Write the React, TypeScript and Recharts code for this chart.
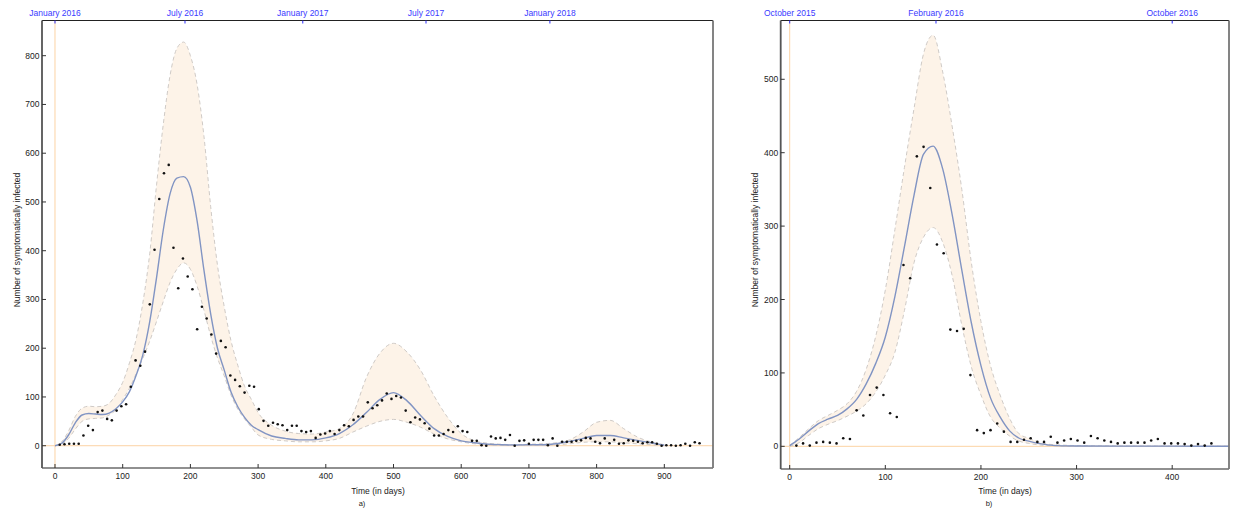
import React from 'react';
import { ComposedChart, XAxis, YAxis, Area, Line, Scatter, ReferenceLine } from 'recharts';

// ---------- Panel a) ----------
const aModelDays = [0,10,20,30,40,50,60,70,80,90,100,110,120,130,140,150,160,170,180,190,200,210,220,230,240,250,260,270,280,290,300,320,340,360,380,400,420,440,460,480,500,520,540,560,580,600,620,640,660,680,700,720,740,760,780,800,820,840,860,880,900];
const aMedian = [0,5,22,47,63,66,65,64,67,76,90,111,145,188,255,345,443,517,549,552,530,460,360,270,200,155,110,80,58,42,33,20,15,12,12,16,25,43,68,95,109,92,62,35,19,10,6,3,2,1.5,2,2,4,9,15,21,21,16,11,6,1];
const aLower = [0,3,15,34,50,55,56,57,63,74,95,118,148,180,215,255,296,335,362,375,362,327,278,225,180,143,104,75,55,38,22,13,10,8,8,10,15,28,40,50,54,48,38,24,14,8,4,2,1,1,1,1,2,4,7,8,8,6,4,2,0];
const aUpper = [0,8,30,60,77,81,80,81,87,105,130,170,220,295,395,535,660,760,815,828,800,740,635,490,370,285,215,165,122,95,68,42,30,25,24,28,35,65,140,190,210,192,155,102,58,25,10,5,3,2,3,4,6,12,28,48,52,35,18,8,2];
const aCases = [2,3,4,4,4,21,41,32,69,72,55,52,72,81,85,121,175,164,193,290,402,506,559,576,406,323,384,347,321,239,285,261,228,189,215,202,144,135,122,109,123,121,75,51,41,47,44,42,32,41,41,30,28,30,16,23,25,30,24,32,42,40,53,60,60,89,77,83,93,107,96,102,99,72,48,58,54,46,35,21,21,24,32,28,40,30,28,10,10,1,0,19,15,16,12,22,0,10,11,4,12,12,12,1,15,0,8,8,8,10,11,16,15,8,5,15,5,12,4,5,11,10,8,5,7,7,4,0,1,1,0,1,4,0,7,5];
const aXTicks = [0,100,200,300,400,500,600,700,800,900];
const aYTicks = [0,100,200,300,400,500,600,700,800];
const aTopTickDays = [0,192,366,548,731];
const aTopTickLabels = ['January 2016','July 2016','January 2017','July 2017','January 2018'];

// ---------- Panel b) ----------
const bModelDays = [0,10,20,30,40,50,60,70,80,90,100,110,120,130,140,150,160,170,180,190,200,210,220,230,240,250,260,270,280,300,350,400,460];
const bMedian = [1,10,21,31,37,42,51,64,85,113,149,204,272,342,398,409,378,315,240,168,110,66,40,21,11,7,4,2,1,0.5,0.3,0.2,0.1];
const bLower = [0,5,15,24,30,35,41,48,58,74,97,128,185,250,285,298,278,232,165,108,70,40,25,14,7,4,2,1,0.5,0.2,0.1,0.1,0];
const bUpper = [1,12,24,35,42,49,58,75,105,150,213,295,380,460,535,560,510,435,350,250,170,110,70,38,17,11,6,3,2,1,0.5,0.3,0.2];
const bCases = [1,4,1,5,6,5,4,11,10,49,42,70,80,70,45,40,247,229,395,408,352,275,263,159,157,160,97,22,18,22,31,20,6,6,9,11,6,6,13,5,8,10,8,5,14,11,8,6,4,5,5,5,5,8,10,4,4,4,3,1,3,1,4];
const bXTicks = [0,100,200,300,400];
const bYTicks = [0,100,200,300,400,500];
const bTopTickDays = [0,153,400];
const bTopTickLabels = ['October 2015','February 2016','October 2016'];

const FONT = '"Liberation Sans", Arial, sans-serif';
const FS = 8.5;

const buildModel = (days: number[], lo: number[], mid: number[], hi: number[]) =>
  days.map((d, i) => ({ d, range: [lo[i], hi[i]], lo: lo[i], mid: mid[i], hi: hi[i] }));
const buildObs = (cases: number[]) => cases.map((v, i) => ({ d: 7 * (i + 1), v }));

const BottomTick = (props: any) => {
  const { x, y, payload } = props;
  return (
    <g>
      <line x1={x} x2={x} y1={y} y2={y - 4} stroke="#333" strokeWidth={1} />
      <text x={x} y={y + 11} textAnchor="middle" fontSize={FS} fill="#222" fontFamily={FONT}>{payload.value}</text>
    </g>
  );
};
const LeftTick = (props: any) => {
  const { x, y, payload } = props;
  return (
    <g>
      <line x1={x} x2={x + 4} y1={y} y2={y} stroke="#333" strokeWidth={1} />
      <text x={x - 2.5} y={y + 3} textAnchor="end" fontSize={FS} fill="#222" fontFamily={FONT}>{payload.value}</text>
    </g>
  );
};
const makeTopTick = (days: number[], labels: string[]) => (props: any) => {
  const { x, y, payload } = props;
  const idx = days.indexOf(payload.value);
  return (
    <g>
      <line x1={x} x2={x} y1={y} y2={y + 3} stroke="#2b2bff" strokeWidth={1} />
      <text x={x} y={y - 4.5} textAnchor="middle" fontSize={FS} fill="#3a3aff" fontFamily={FONT}>{idx >= 0 ? labels[idx] : ''}</text>
    </g>
  );
};

const Dot = (props: any) => {
  const { cx, cy } = props;
  if (cx == null || cy == null) return null;
  return <circle cx={cx} cy={cy} r={1.3} fill="#111" />;
};

type PanelProps = {
  width: number; height: number; margin: any;
  xDomain: number[]; yDomain: number[];
  model: any[]; obs: any[];
  xTicks: number[]; yTicks: number[];
  topDays: number[]; topLabels: string[];
};

const Panel = (p: PanelProps) => {
  const TopTick = makeTopTick(p.topDays, p.topLabels);
  return (
    <ComposedChart width={p.width} height={p.height} margin={p.margin} data={p.model}>
      <XAxis xAxisId="b" dataKey="d" type="number" domain={p.xDomain} allowDataOverflow ticks={p.xTicks}
        height={20} tickSize={0} tickMargin={0} tickLine={false} tick={<BottomTick />}
        axisLine={{ stroke: '#222', strokeWidth: 1.2 }} interval={0} />
      <XAxis xAxisId="t" dataKey="d" type="number" orientation="top" domain={p.xDomain} allowDataOverflow ticks={p.topDays}
        height={18} tickSize={0} tickMargin={0} tickLine={false} tick={<TopTick />}
        axisLine={{ stroke: '#222', strokeWidth: 1 }} interval={0} />
      <YAxis yAxisId="l" type="number" domain={p.yDomain} allowDataOverflow ticks={p.yTicks}
        width={35} tickSize={0} tickMargin={0} tickLine={false} tick={<LeftTick />}
        axisLine={{ stroke: '#555', strokeWidth: 1.8 }} interval={0} />
      <YAxis yAxisId="r" type="number" orientation="right" domain={p.yDomain} allowDataOverflow ticks={p.yTicks}
        width={5} tick={false} tickLine={false} axisLine={{ stroke: '#777', strokeWidth: 1.8 }} />
      <Area xAxisId="b" yAxisId="l" dataKey="range" type="monotone" fill="#fdf3e8" fillOpacity={1} stroke="none" isAnimationActive={false} activeDot={false} />
      <ReferenceLine xAxisId="b" yAxisId="l" y={0} stroke="#fcd3a4" strokeWidth={1} />
      <ReferenceLine xAxisId="b" yAxisId="l" x={0} stroke="#fcd3a4" strokeWidth={1} />
      <Line xAxisId="b" yAxisId="l" dataKey="hi" type="monotone" stroke="#cfcac6" strokeWidth={1} strokeDasharray="4 3" dot={false} activeDot={false} isAnimationActive={false} />
      <Line xAxisId="b" yAxisId="l" dataKey="lo" type="monotone" stroke="#cfcac6" strokeWidth={1} strokeDasharray="4 3" dot={false} activeDot={false} isAnimationActive={false} />
      <Line xAxisId="b" yAxisId="l" dataKey="mid" type="monotone" stroke="#8194c3" strokeWidth={1.4} dot={false} activeDot={false} isAnimationActive={false} />
      <Scatter xAxisId="b" yAxisId="l" data={p.obs} dataKey="v" fill="#111" shape={<Dot />} isAnimationActive={false} />
    </ComposedChart>
  );
};

const textStyle: React.CSSProperties = { position: 'absolute', fontFamily: FONT, fontSize: FS, color: '#222', whiteSpace: 'nowrap', lineHeight: 1 };

export default function App() {
  const aModel = buildModel(aModelDays, aLower, aMedian, aUpper);
  const bModel = buildModel(bModelDays, bLower, bMedian, bUpper);
  const aObs = buildObs(aCases);
  const bObs = buildObs(bCases);
  return (
    <div style={{ position: 'absolute', left: 0, top: 0, width: 1236, height: 510, background: '#fff', overflow: 'hidden' }}>
      <div style={{ position: 'absolute', left: 0, top: 0 }}>
        <Panel width={730} height={510} margin={{ top: 2.5, right: 12, bottom: 22, left: 7 }}
          xDomain={[-19.2, 971.9]} yDomain={[-45.7, 872.2]} model={aModel} obs={aObs}
          xTicks={aXTicks} yTicks={aYTicks} topDays={aTopTickDays} topLabels={aTopTickLabels} />
      </div>
      <div style={{ position: 'absolute', left: 730, top: 0 }}>
        <Panel width={506} height={510} margin={{ top: 2.5, right: 2, bottom: 21, left: 15.7 }}
          xDomain={[-9.4, 459.4]} yDomain={[-30.9, 580.1]} model={bModel} obs={bObs}
          xTicks={bXTicks} yTicks={bYTicks} topDays={bTopTickDays} topLabels={bTopTickLabels} />
      </div>
      <div style={{ ...textStyle, left: 378, top: 491, transform: 'translate(-50%,-50%)' }}>Time (in days)</div>
      <div style={{ ...textStyle, left: 362, top: 504, transform: 'translate(-50%,-50%)', fontSize: 7.5 }}>a)</div>
      <div style={{ ...textStyle, left: 1005, top: 491, transform: 'translate(-50%,-50%)' }}>Time (in days)</div>
      <div style={{ ...textStyle, left: 989, top: 504, transform: 'translate(-50%,-50%)', fontSize: 7.5 }}>b)</div>
      <div style={{ ...textStyle, left: 16.5, top: 240, transform: 'translate(-50%,-50%) rotate(-90deg)' }}>Number of symptomatically infected</div>
      <div style={{ ...textStyle, left: 755, top: 240, transform: 'translate(-50%,-50%) rotate(-90deg)' }}>Number of symptomatically infected</div>
    </div>
  );
}
